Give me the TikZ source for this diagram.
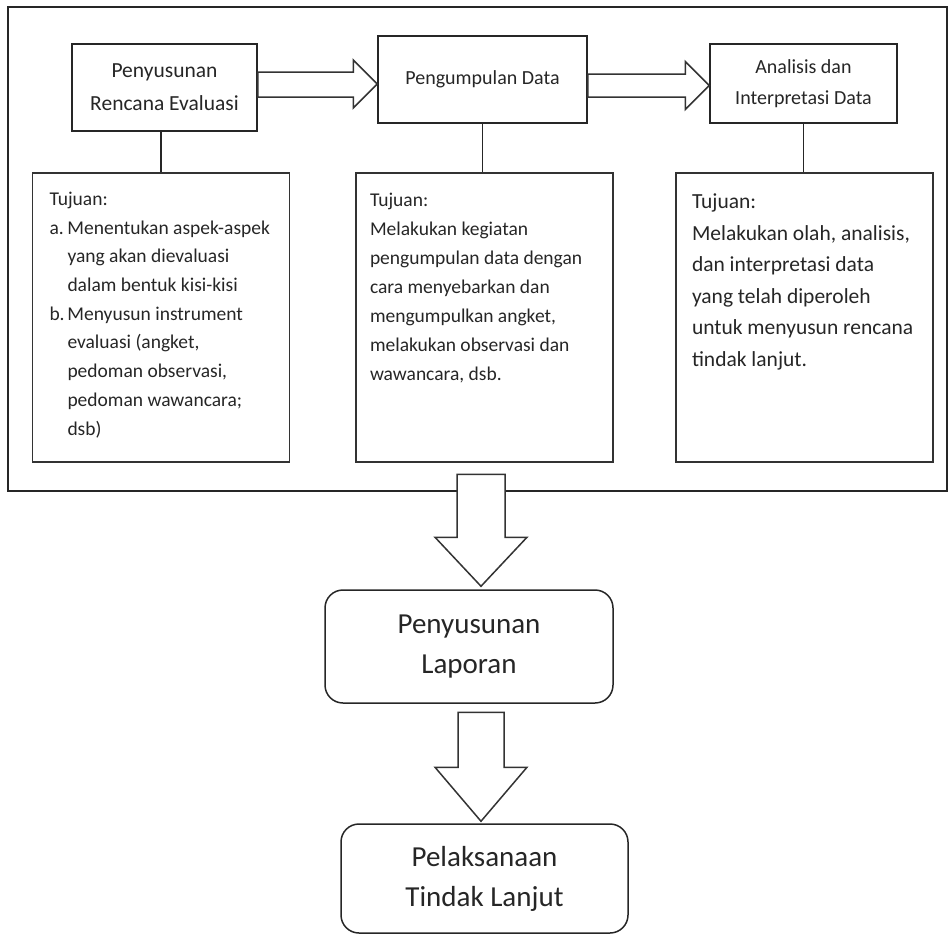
\documentclass[tikz,border=0pt]{standalone}
\usepackage{fontspec}
\setmainfont{Carlito}
\usepackage{tikz}
\usetikzlibrary{calc}

\begin{document}
\begin{tikzpicture}[
  x=1pt, y=-1pt,
  line width=1.5pt,
  stage/.style={draw=black!85, text=black!85, align=center, inner sep=2pt, font=\fontsize{20}{31}\selectfont},
  goalbox/.style={draw=black!80, minimum width=257pt, minimum height=289pt, inner sep=0pt},
  goaltext/.style={anchor=north west, align=left, inner sep=0pt, text=black!85},
  result/.style={draw=black!85, text=black!85, rounded corners=18pt, align=center, inner sep=2pt, font=\fontsize{29}{40}\selectfont},
  fat/.style={draw=black!80, fill=white, line join=miter}
]
\useasboundingbox (0,0) rectangle (951,935);
\draw[black!85] (8,7) rectangle (947,491);

\node[stage, minimum width=185pt, minimum height=87pt, font=\fontsize{21.5}{33}\selectfont] (plan) at (164.5,87.5) {Penyusunan\\Rencana Evaluasi};
\node[stage, minimum width=209pt, minimum height=87pt] (collect) at (482.5,79.5) {Pengumpulan Data};
\node[stage, minimum width=187pt, minimum height=79pt] (analyse) at (803.5,83.5) {Analisis dan\\Interpretasi Data};

\node[goalbox] (planGoal) at (161,317.5) {};
\node[goalbox] (collectGoal) at (484.5,317.5) {};
\node[goalbox] (analyseGoal) at (804.5,317.5) {};

\node[goaltext, font=\fontsize{19.5}{28.7}\selectfont] (planTxt) at ($(planGoal.north west)+(17,19)$)
  {Tujuan:\\\makebox[18pt][l]{a.}Menentukan aspek-aspek\\\hspace*{18pt}yang akan dievaluasi\\\hspace*{18pt}dalam bentuk kisi-kisi\\
   \makebox[18pt][l]{b.}Menyusun instrument\\\hspace*{18pt}evaluasi (angket,\\\hspace*{18pt}pedoman observasi,\\\hspace*{18pt}pedoman wawancara;\\\hspace*{18pt}dsb)};
\node[goaltext, font=\fontsize{19.5}{29}\selectfont] (collectTxt) at ($(collectGoal.north west)+(14,20)$)
  {Tujuan:\\Melakukan kegiatan\\pengumpulan data dengan\\cara menyebarkan dan\\mengumpulkan angket,\\melakukan observasi dan\\wawancara, dsb.};
\node[goaltext, font=\fontsize{21.5}{31.5}\selectfont] (analyseTxt) at ($(analyseGoal.north west)+(16,21)$)
  {Tujuan:\\Melakukan olah, analisis,\\dan interpretasi data\\yang telah diperoleh\\untuk menyusun rencana\\tindak lanjut.};

\draw[black!85] (plan.south -| planGoal.north) -- (planGoal.north);
\draw[black!85] (collect.south) -- (collect.south |- collectGoal.north);
\draw[black!85] (analyse.south) -- (analyse.south |- analyseGoal.north);

\draw[fat] ($(plan.east)+(0,-15.5)$) -- ($(collect.west |- plan.east)+(-24,-15.5)$) -- ++(0,-12) -- ++(24,24)
  -- ++(-24,24) -- ++(0,-11) -- ($(plan.east)+(0,9.5)$) -- cycle;
\draw[fat] ($(collect.east |- analyse.west)+(0,-9.5)$) -- ($(analyse.west)+(-24,-9.5)$) -- ++(0,-12.5) -- ++(24,24)
  -- ++(-24,24) -- ++(0,-12.5) -- ($(collect.east |- analyse.west)+(0,13.5)$) -- cycle;

\node[result, minimum width=288pt, minimum height=113pt] (report) at (469,646.5) {Penyusunan\\Laporan};
\node[result, minimum width=287pt, minimum height=109pt] (action) at (484.5,878.5) {Pelaksanaan\\Tindak Lanjut};

\draw[fat] ($(report.north)+(12,-3)$) -- ++(46,-49) -- ++(-22,0) -- ++(0,-63) -- ++(-48,0) -- ++(0,63) -- ++(-22,0) -- cycle;
\draw[fat] ($(action.north)+(-3.5,-2)$) -- ++(46,-54) -- ++(-23,0) -- ++(0,-55) -- ++(-46,0) -- ++(0,55) -- ++(-23,0) -- cycle;
\end{tikzpicture}
\end{document}
